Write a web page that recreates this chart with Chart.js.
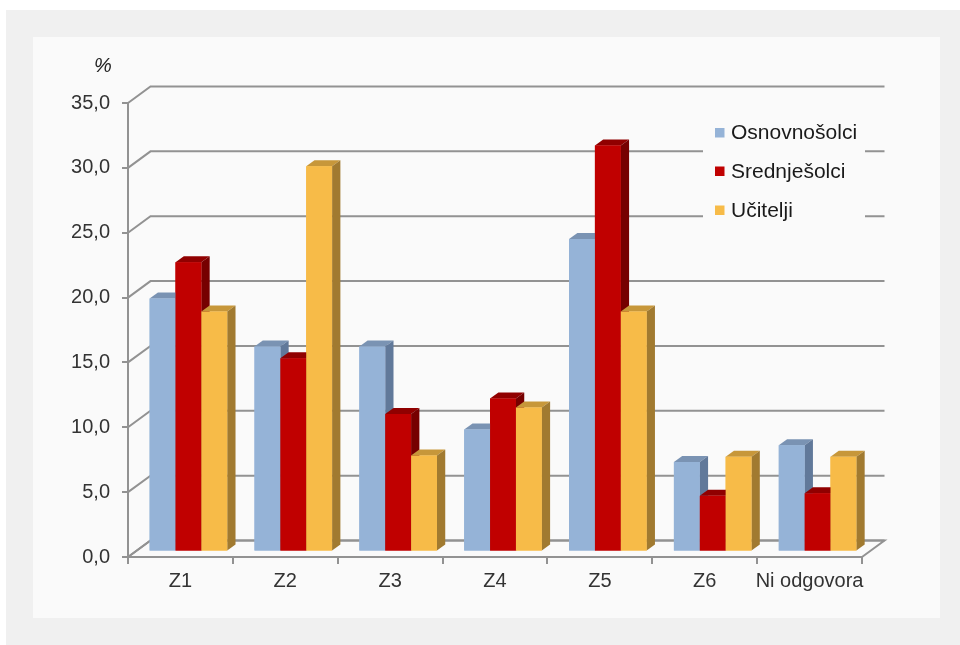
<!DOCTYPE html>
<html>
<head>
<meta charset="utf-8">
<script src="https://cdn.jsdelivr.net/npm/chart.js@4"></script>
<style>
    body { margin: 0; background: #ffffff; }
    #outer { position: absolute; left: 6px; top: 10px; width: 954px; height: 635px; background: #f0f0f0; }
    #panel { position: absolute; left: 33px; top: 37px; width: 907px; height: 581px; background: #fafafa; }
    #wrap { position: absolute; left: 0; top: 0; width: 960px; height: 645px; }
</style>
</head>
<body>
<div id="outer"></div>
<div id="panel"></div>
<div id="wrap"><canvas id="chart" width="960" height="645"></canvas></div>
<script>
const categories = ["Z1", "Z2", "Z3", "Z4", "Z5", "Z6", "Ni odgovora"];
const osnovnosolci = [19.5, 15.8, 15.8, 9.4, 24.1, 6.9, 8.2];
const srednjesolci = [22.3, 14.9, 10.6, 11.8, 31.3, 4.3, 4.5];
const ucitelji = [18.5, 29.7, 7.4, 11.1, 18.5, 7.3, 7.3];
const seriesNames = ["Osnovnošolci", "Srednješolci", "Učitelji"];

// front, top, side colours per series
const colours = [
    { front: "#95b3d7", top: "#7a93b3", side: "#61799a" },
    { front: "#c00000", top: "#900000", side: "#760000" },
    { front: "#f7bb48", top: "#c7973a", side: "#a17a30" },
];

const WALL_DX = 22.5, WALL_DY = -16.5;   // depth of the plot box
const BAR_DX = 8, BAR_DY = -5.5;         // bars sit a bit inside the box
const BAR_DEPTH_X = 8.3, BAR_DEPTH_Y = -6;
const gridColour = "#929292";
const font = "'Liberation Sans', Arial, sans-serif";

const threeD = {
    id: "threeD",
    beforeDatasetsDraw(chart) {
        const { ctx, chartArea, scales } = chart;
        const y = scales.y;
        const left = chartArea.left, right = chartArea.right, bottom = chartArea.bottom;
        ctx.save();
        ctx.strokeStyle = gridColour;
        ctx.lineWidth = 2;
        // floor
        ctx.beginPath();
        ctx.moveTo(left, bottom);
        ctx.lineTo(left + WALL_DX, bottom + WALL_DY);
        ctx.lineTo(right + WALL_DX, bottom + WALL_DY);
        ctx.lineTo(right, bottom);
        ctx.stroke();
        // back wall grid + side wall diagonals
        y.ticks.forEach((t) => {
            const py = y.getPixelForValue(t.value);
            ctx.beginPath();
            ctx.moveTo(left, py);
            ctx.lineTo(left + WALL_DX, py + WALL_DY);
            ctx.lineTo(right + WALL_DX, py + WALL_DY);
            ctx.stroke();
        });
        ctx.restore();
        ctx.save();
        ctx.translate(BAR_DX, BAR_DY);
    },
    afterDatasetsDraw(chart) {
        const { ctx } = chart;
        const metas = chart.data.datasets.map((ds, i) => chart.getDatasetMeta(i));
        // redraw bar by bar, left to right, so each front hides the previous side face
        categories.forEach((cat, j) => {
            metas.forEach((meta, i) => {
                const bar = meta.data[j];
                const c = colours[i];
                const x0 = bar.x - bar.width / 2, x1 = bar.x + bar.width / 2;
                const top = bar.y, base = bar.base;
                ctx.fillStyle = c.top;
                ctx.beginPath();
                ctx.moveTo(x0, top);
                ctx.lineTo(x0 + BAR_DEPTH_X, top + BAR_DEPTH_Y);
                ctx.lineTo(x1 + BAR_DEPTH_X, top + BAR_DEPTH_Y);
                ctx.lineTo(x1, top);
                ctx.closePath();
                ctx.fill();
                ctx.fillStyle = c.side;
                ctx.beginPath();
                ctx.moveTo(x1, top);
                ctx.lineTo(x1 + BAR_DEPTH_X, top + BAR_DEPTH_Y);
                ctx.lineTo(x1 + BAR_DEPTH_X, base + BAR_DEPTH_Y);
                ctx.lineTo(x1, base);
                ctx.closePath();
                ctx.fill();
                bar.draw(ctx);
            });
        });
        ctx.restore();

        // legend and % label
        ctx.save();
        ctx.fillStyle = "#fafafa";
        ctx.fillRect(703, 108, 162, 122);
        ctx.font = "21px " + font;
        ctx.textBaseline = "middle";
        const rows = [132.5, 171, 210];
        chart.data.datasets.forEach((ds, i) => {
            ctx.fillStyle = colours[i].front;
            ctx.fillRect(715, rows[i] - 4.5, 9.5, 9.5);
            ctx.fillStyle = "#1a1a1a";
            ctx.fillText(ds.label, 731, rows[i] + 1);
        });
        ctx.font = "italic 20px " + font;
        ctx.fillStyle = "#222";
        ctx.textAlign = "center";
        ctx.fillText("%", 103, 66);
        ctx.restore();
    },
};

const datasets = [osnovnosolci, srednjesolci, ucitelji].map((values, i) => ({
    label: seriesNames[i],
    data: values,
    backgroundColor: colours[i].front,
    borderWidth: 0,
    categoryPercentage: 0.74,
    barPercentage: 1,
}));

new Chart(document.getElementById("chart"), {
    type: "bar",
    data: { labels: categories, datasets },
    options: {
        responsive: false,
        animation: false,
        layout: { padding: { top: 103, right: 98, bottom: 0, left: 0 } },
        plugins: {
            legend: { display: false },
            tooltip: { enabled: false },
        },
        scales: {
            x: {
                afterFit: (scale) => { scale.height = 88; },
                border: { display: true, color: gridColour, width: 2 },
                grid: { offset: true, drawOnChartArea: false, drawTicks: true, tickLength: 7, color: gridColour, lineWidth: 2 },
                ticks: {
                    padding: 5,
                    maxRotation: 0,
                    minRotation: 0,
                    autoSkip: false,
                    color: "#333",
                    font: { family: font, size: 20 },
                },
            },
            y: {
                min: 0,
                max: 35,
                afterFit: (scale) => { scale.width = 128; },
                border: { display: true, color: gridColour, width: 2 },
                grid: { drawOnChartArea: false, drawTicks: true, tickLength: 6, color: gridColour, lineWidth: 2 },
                ticks: {
                    stepSize: 5,
                    padding: 12,
                    color: "#333",
                    font: { family: font, size: 20 },
                    callback: (v) => v.toFixed(1).replace(".", ","),
                },
            },
        },
    },
    plugins: [threeD],
});
</script>
</body>
</html>
